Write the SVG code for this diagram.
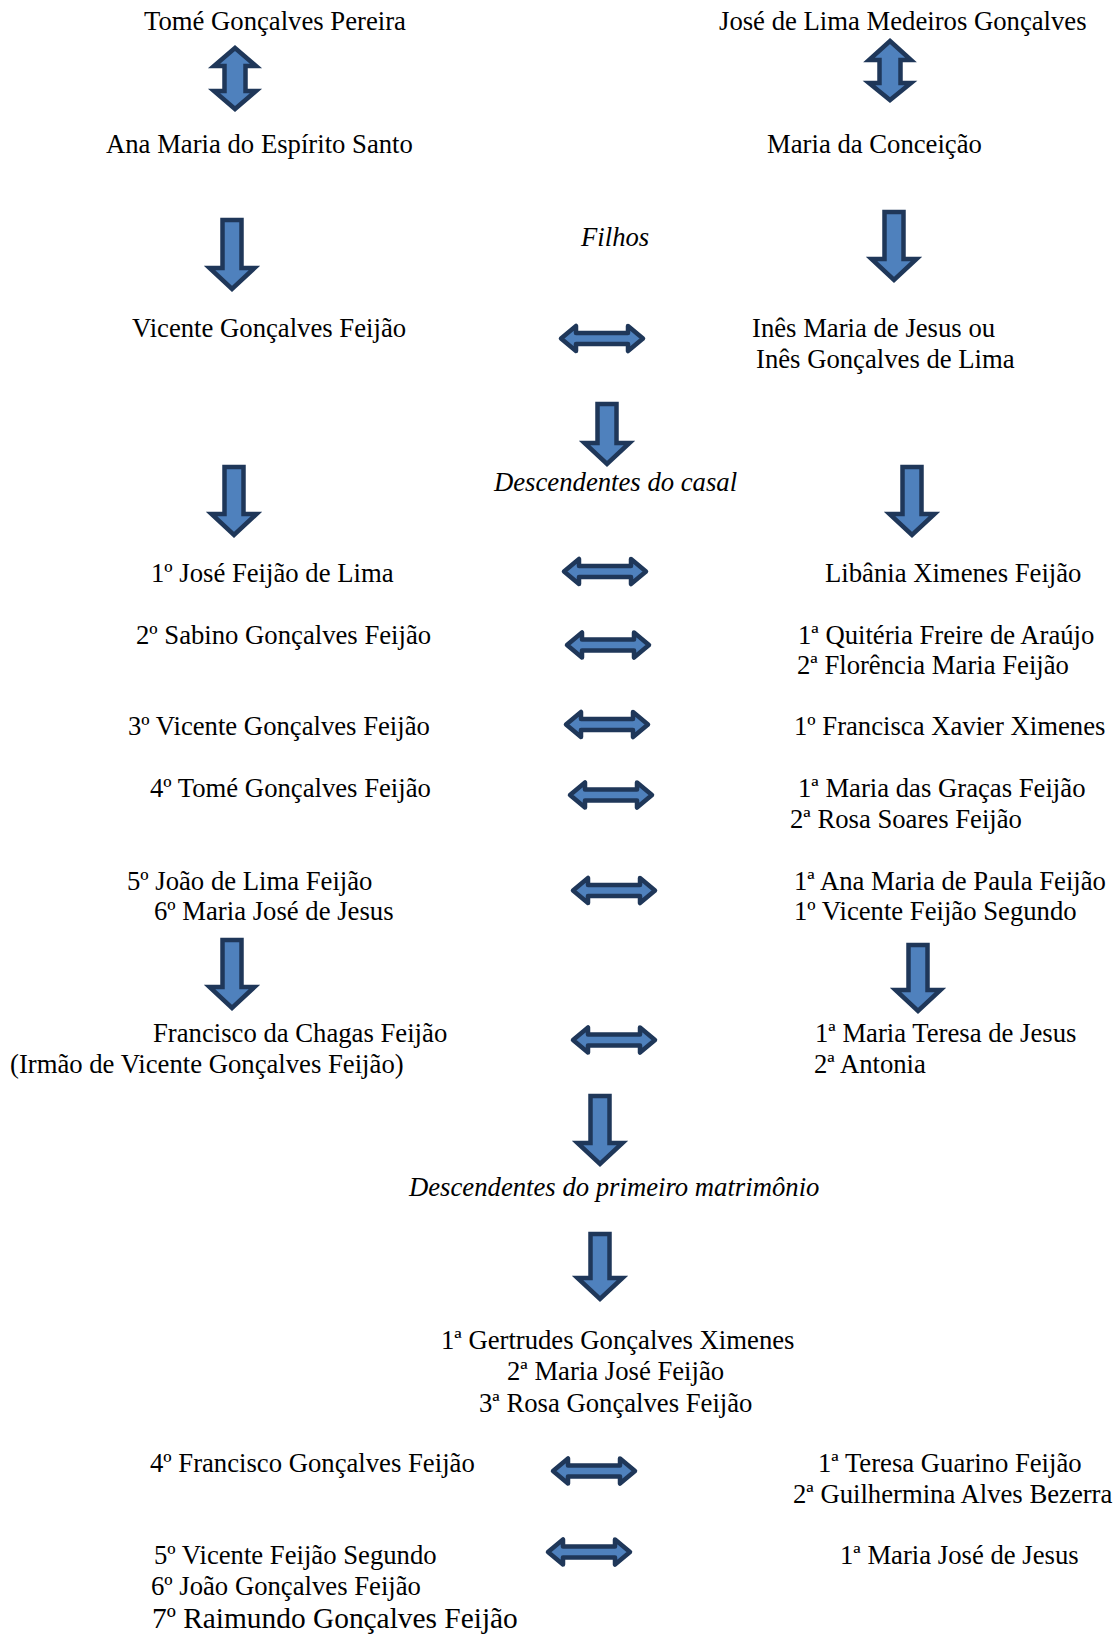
<svg xmlns="http://www.w3.org/2000/svg" xmlns:xlink="http://www.w3.org/1999/xlink" width="1120" height="1634" viewBox="0 0 1120 1634">
<style>
text{font-family:"Liberation Serif","Times New Roman",serif;font-size:26.7px;fill:#000}
.it{font-style:italic}
.big{font-size:29.4px}
.arr{fill:#4F81BD;stroke:#1F3759;stroke-width:4.5;stroke-linejoin:miter}
.lr{fill:#4F81BD;stroke:#1F3759;stroke-width:4.5;stroke-linejoin:round}
</style>
<defs>
<path id="lrA" class="lr" d="M2,0 L17,-12.5 V-5.5 H69 V-12.5 L84,0 L69,12.5 V5.5 H17 V12.5 Z"/>
</defs>
<rect width="1120" height="1634" fill="#fff"/>
<g id="connectors">
<path class="arr" d="M235,48 L256,66 H245.5 V91 H256 L235,109 L214,91 H224.5 V66 H214 Z"/>
<path class="arr" d="M890,41 L911,60 H900.5 V83 H911 L890,100 L869,83 H879.5 V60 H869 Z"/>
<path class="arr" d="M222.5,220 H241.5 V268 H254.5 L232,289 L209.5,268 H222.5 Z"/>
<path class="arr" d="M884.5,212 H903.5 V259 H916.5 L894,280 L871.5,259 H884.5 Z"/>
<path class="arr" d="M597.5,404 H616.5 V443 H629.5 L607,464 L584.5,443 H597.5 Z"/>
<path class="arr" d="M224.5,467 H243.5 V514 H256.5 L234,535 L211.5,514 H224.5 Z"/>
<path class="arr" d="M902.5,467 H921.5 V514 H934.5 L912,535 L889.5,514 H902.5 Z"/>
<path class="arr" d="M222.5,940 H241.5 V987 H254.5 L232,1008 L209.5,987 H222.5 Z"/>
<path class="arr" d="M908.5,945 H927.5 V990 H940.5 L918,1011 L895.5,990 H908.5 Z"/>
<path class="arr" d="M590.5,1096 H609.5 V1143 H622.5 L600,1164 L577.5,1143 H590.5 Z"/>
<path class="arr" d="M590.5,1234 H609.5 V1278 H622.5 L600,1299 L577.5,1278 H590.5 Z"/>
<use xlink:href="#lrA" x="559" y="338.5"/>
<use xlink:href="#lrA" x="562" y="571.5"/>
<use xlink:href="#lrA" x="565" y="645"/>
<use xlink:href="#lrA" x="564" y="724.5"/>
<use xlink:href="#lrA" x="568" y="795"/>
<use xlink:href="#lrA" x="571" y="890.5"/>
<use xlink:href="#lrA" x="571" y="1040"/>
<use xlink:href="#lrA" x="551" y="1471"/>
<use xlink:href="#lrA" x="546" y="1552"/>
</g>
<g id="n-tome-pereira"><text x="144" y="30">Tomé Gonçalves Pereira</text></g>
<g id="n-jose-lima"><text x="719" y="30">José de Lima Medeiros Gonçalves</text></g>
<g id="n-ana-maria"><text x="106" y="153">Ana Maria do Espírito Santo</text></g>
<g id="n-maria-conceicao"><text x="767" y="153">Maria da Conceição</text></g>
<g id="n-filhos"><text class="it" x="581" y="245.5">Filhos</text></g>
<g id="n-vicente"><text x="132" y="337">Vicente Gonçalves Feijão</text></g>
<g id="n-ines"><text x="752" y="337">Inês Maria de Jesus ou</text><text x="756" y="367.5">Inês Gonçalves de Lima</text></g>
<g id="n-desc-casal"><text class="it" x="494" y="490.5">Descendentes do casal</text></g>
<g id="n-jose-feijao"><text x="151" y="582">1º José Feijão de Lima</text></g>
<g id="n-libania"><text x="825" y="582">Libânia Ximenes Feijão</text></g>
<g id="n-sabino"><text x="136" y="643.5">2º Sabino Gonçalves Feijão</text></g>
<g id="n-quiteria"><text x="798" y="643.5">1ª Quitéria Freire de Araújo</text><text x="797" y="674">2ª Florência Maria Feijão</text></g>
<g id="n-vicente3"><text x="128" y="735">3º Vicente Gonçalves Feijão</text></g>
<g id="n-francisca"><text x="794" y="735">1º Francisca Xavier Ximenes</text></g>
<g id="n-tome4"><text x="150" y="797">4º Tomé Gonçalves Feijão</text></g>
<g id="n-gracas"><text x="798" y="797">1ª Maria das Graças Feijão</text><text x="790" y="828">2ª Rosa Soares Feijão</text></g>
<g id="n-joao5"><text x="127" y="889.5">5º João de Lima Feijão</text><text x="154" y="920">6º Maria José de Jesus</text></g>
<g id="n-ana-paula"><text x="794" y="889.5">1ª Ana Maria de Paula Feijão</text><text x="794" y="920">1º Vicente Feijão Segundo</text></g>
<g id="n-francisco-chagas"><text x="153" y="1041.5">Francisco da Chagas Feijão</text><text x="10" y="1073">(Irmão de Vicente Gonçalves Feijão)</text></g>
<g id="n-teresa-jesus"><text x="815" y="1041.5">1ª Maria Teresa de Jesus</text><text x="814" y="1073">2ª Antonia</text></g>
<g id="n-desc-primeiro"><text class="it" x="409" y="1196">Descendentes do primeiro matrimônio</text></g>
<g id="n-gertrudes"><text x="441" y="1349">1ª Gertrudes Gonçalves Ximenes</text><text x="507" y="1380">2ª Maria José Feijão</text><text x="479" y="1411.5">3ª Rosa Gonçalves Feijão</text></g>
<g id="n-francisco4"><text x="150" y="1472">4º Francisco Gonçalves Feijão</text></g>
<g id="n-teresa-guarino"><text x="818" y="1472">1ª Teresa Guarino Feijão</text><text x="793" y="1503">2ª Guilhermina Alves Bezerra</text></g>
<g id="n-vicente5"><text x="154" y="1564">5º Vicente Feijão Segundo</text><text x="151" y="1595">6º João Gonçalves Feijão</text><text class="big" x="152" y="1627.5">7º Raimundo Gonçalves Feijão</text></g>
<g id="n-maria-jose-jesus"><text x="840" y="1564">1ª Maria José de Jesus</text></g>
</svg>
